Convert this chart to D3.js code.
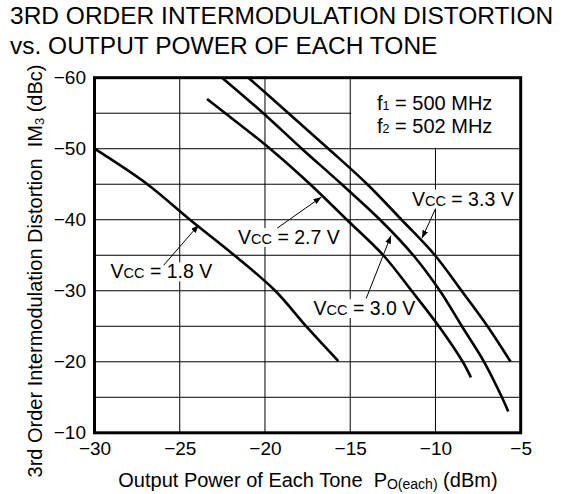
<!DOCTYPE html>
<html>
<head>
<meta charset="utf-8">
<script src="https://cdn.jsdelivr.net/npm/d3@7"></script>
<style>
  body { margin: 0; background: #fff; }
  svg { display: block; }
  text { font-family: "Liberation Sans", Arial, Helvetica, sans-serif; fill: #000; white-space: pre; }
</style>
</head>
<body>
<svg id="c" width="574" height="494"></svg>
<script>
// ---------- data ----------
const titleLines = ["3RD ORDER INTERMODULATION DISTORTION", "vs. OUTPUT POWER OF EACH TONE"];
const xTicks = [-30, -25, -20, -15, -10, -5];
const yTicks = [-60, -50, -40, -30, -20, -10];
const gridX = [-25, -20, -15, -10];
const gridY = [-55, -50, -45, -40, -35, -30, -25, -20, -15];

// Output power of each tone (dBm), IM3 (dBc)
const vcc18 = [[-30, -50], [-26.9, -45], [-24.4, -40], [-21.8, -35], [-19.4, -30], [-17.55, -24.9], [-15.7, -20.1]];
const vcc27 = [[-23.4, -57.0], [-22.33, -55], [-19.7, -50], [-17.35, -45], [-15.2, -40], [-13.06, -35], [-11.4, -30], [-9.8, -25], [-8.4, -20], [-7.92, -17.8]];
const vcc30 = [[-22.52, -60], [-20.1, -55], [-17.84, -50], [-15.5, -45], [-13.25, -40], [-11.3, -35], [-9.74, -30], [-8.45, -25], [-7.15, -20], [-6.1, -15], [-5.73, -13.0]];
const vcc33 = [[-20.97, -60], [-18.62, -55], [-16.28, -50], [-14.0, -45], [-11.99, -40], [-10.03, -35], [-8.47, -30], [-6.95, -25], [-5.59, -20]];

const seriesNames = ["1.8", "2.7", "3.0", "3.3"];
const labelPos = [[-29.06, -31.75], [-21.58, -36.59], [-17.15, -26.57], [-11.38, -41.99]];
const arrowFrom = [[-25.94, -33.6], [-19.29, -38.8], [-14.06, -28.93], [-10.01, -41.48]];
const arrowTo = [[-23.89, -39.27], [-16.69, -43.2], [-12.61, -37.76], [-10.79, -37.39]];

const legendLines = [["f", "1", " = 500 MHz"], ["f", "2", " = 502 MHz"]];
const legendX = -13.43;
const legendY = [-55.49, -52.28];
const legendBox = [-15, -5, -60, -50];

const xTitle = ["Output Power of Each Tone\u00a0\u00a0P", "O(each)", " (dBm)"];
const yTitle = ["3rd Order Intermodulation Distortion\u00a0\u00a0IM", "3", " (dBc)"];

// ---------- chart ----------
const svg = d3.select("#c");
const x = d3.scaleLinear().domain([-30, -5]).range([94.5, 520.7]);
const y = d3.scaleLinear().domain([-60, -10]).range([77.7, 432.8]);

svg.append("defs").append("marker")
  .attr("id", "ah").attr("viewBox", "0 -3 8 6")
  .attr("refX", 8).attr("refY", 0)
  .attr("markerWidth", 8).attr("markerHeight", 6)
  .attr("markerUnits", "userSpaceOnUse").attr("orient", "auto")
  .append("path").attr("d", "M0,-3L8,0L0,3Z").attr("fill", "#000");

// title
svg.append("g").selectAll("text").data(titleLines).join("text")
  .attr("x", 10).attr("y", (d, i) => 24 + i * 30)
  .attr("font-size", 24.5).text(d => d);

const gGrid = svg.append("g");
const gMask = svg.append("g");
const gFrame = svg.append("g");
const gCurves = svg.append("g");
const gArrows = svg.append("g");
const gText = svg.append("g");

// grid
gGrid.selectAll("line.v").data(gridX).join("line").attr("class", "v")
  .attr("x1", d => x(d)).attr("x2", d => x(d))
  .attr("y1", y(-60)).attr("y2", y(-10))
  .attr("stroke", "#000").attr("stroke-width", 1);
gGrid.selectAll("line.h").data(gridY).join("line").attr("class", "h")
  .attr("y1", d => y(d)).attr("y2", d => y(d))
  .attr("x1", x(-30)).attr("x2", x(-5))
  .attr("stroke", "#000").attr("stroke-width", 1);

// legend box mask
gMask.append("rect")
  .attr("x", x(legendBox[0]) + 1).attr("y", y(legendBox[2]))
  .attr("width", x(legendBox[1]) - x(legendBox[0]) - 1)
  .attr("height", y(legendBox[3]) - y(legendBox[2]) - 1)
  .attr("fill", "#fff");

// frame
gFrame.append("rect")
  .attr("x", x(-30)).attr("y", y(-60))
  .attr("width", x(-5) - x(-30)).attr("height", y(-10) - y(-60))
  .attr("fill", "none").attr("stroke", "#000").attr("stroke-width", 3);

// axes
const yAxis = d3.axisLeft(y).tickValues(yTicks).tickSize(0).tickPadding(8.5);
const gy = svg.append("g").attr("transform", `translate(${x(-30)},0)`).call(yAxis);
gy.select(".domain").remove();
gy.selectAll("text").attr("font-size", 19).attr("font-family", null).attr("fill", "#000");

const xAxis = d3.axisBottom(x).tickValues(xTicks).tickSize(0).tickPadding(8.7);
const gx = svg.append("g").attr("transform", `translate(0,${y(-10)})`).call(xAxis);
gx.select(".domain").remove();
gx.selectAll("text").attr("font-size", 19).attr("font-family", null).attr("fill", "#000");

// curves
const line = d3.line().x(d => x(d[0])).y(d => y(d[1])).curve(d3.curveCatmullRom.alpha(0.5));
gCurves.selectAll("path").data([vcc18, vcc27, vcc30, vcc33]).join("path")
  .attr("d", line).attr("fill", "none").attr("stroke", "#000")
  .attr("stroke-width", 2.6).attr("stroke-linecap", "butt");

// arrows
gArrows.selectAll("line").data(seriesNames).join("line")
  .attr("x1", (d, i) => x(arrowFrom[i][0])).attr("y1", (d, i) => y(arrowFrom[i][1]))
  .attr("x2", (d, i) => x(arrowTo[i][0])).attr("y2", (d, i) => y(arrowTo[i][1]))
  .attr("stroke", "#000").attr("stroke-width", 1).attr("marker-end", "url(#ah)");

// series labels
seriesNames.forEach((name, i) => {
  const t = gText.append("text")
    .attr("x", x(labelPos[i][0])).attr("y", y(labelPos[i][1]))
    .attr("font-size", 19.5);
  t.append("tspan").text("V");
  t.append("tspan").attr("font-size", 14.5).text("CC");
  t.append("tspan").text(" = " + name + " V");
  const b = t.node().getBBox();
  gMask.append("rect").attr("x", b.x - 2).attr("y", b.y + 2)
    .attr("width", b.width + 4).attr("height", b.height - 3).attr("fill", "#fff");
});

// legend text
legendLines.forEach((parts, i) => {
  const t = gText.append("text")
    .attr("x", x(legendX)).attr("y", y(legendY[i])).attr("font-size", 20);
  t.append("tspan").text(parts[0]);
  t.append("tspan").attr("font-size", 12.5).text(parts[1]);
  t.append("tspan").text(parts[2]);
});

// axis titles
const xt = svg.append("text").attr("x", 118.3).attr("y", 487).attr("font-size", 20);
xt.append("tspan").text(xTitle[0]);
xt.append("tspan").attr("font-size", 14).attr("dy", 2).text(xTitle[1]);
xt.append("tspan").attr("dy", -2).text(xTitle[2]);

const yt = svg.append("text").attr("transform", "translate(42,271) rotate(-90)")
  .attr("text-anchor", "middle").attr("font-size", 20);
yt.append("tspan").text(yTitle[0]);
yt.append("tspan").attr("font-size", 13).attr("dy", 1.5).text(yTitle[1]);
yt.append("tspan").attr("dy", -1.5).text(yTitle[2]);
</script>
</body>
</html>
